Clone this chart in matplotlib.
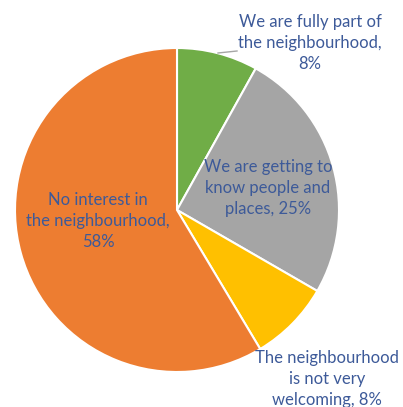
import matplotlib.pyplot as plt

# Share of responses per answer
labels = [
    "We are fully part of\nthe neighbourhood,\n8%",
    "We are getting to\nknow people and\nplaces, 25%",
    "The neighbourhood\nis not very\nwelcoming, 8%",
    "No interest in\nthe neighbourhood,\n58%",
]
values = [8, 25, 8, 58]
colors = ["#70AD47", "#A5A5A5", "#FFC000", "#ED7D31"]

W, H = 403, 407
fig = plt.figure(figsize=(W / 100, H / 100), dpi=100)
ax = fig.add_axes([0, 0, 1, 1])

cx, cy, r = 177, H - 210, 162
ax.pie(values, colors=colors, startangle=90, counterclock=False,
       center=(cx, cy), radius=r, frame=True,
       wedgeprops=dict(edgecolor="white", linewidth=1.5))
ax.set_xlim(0, W)
ax.set_ylim(0, H)
ax.set_aspect("equal")
ax.axis("off")

text_color = "#3D5A99"
font = dict(family=["Lato", "DejaVu Sans"], fontsize=12, color=text_color,
            ha="center", va="center", linespacing=1.42)

label_pos = [(310, 43), (268, 188), (327, 379), (98, 221)]
for lab, (x, y) in zip(labels, label_pos):
    ax.text(x, H - y, lab, **font)

# leader line for the small top slice
ax.plot([218, 237], [H - 53, H - 51], color="#A6A6A6", lw=1)

fig.savefig("out.png", dpi=100)
